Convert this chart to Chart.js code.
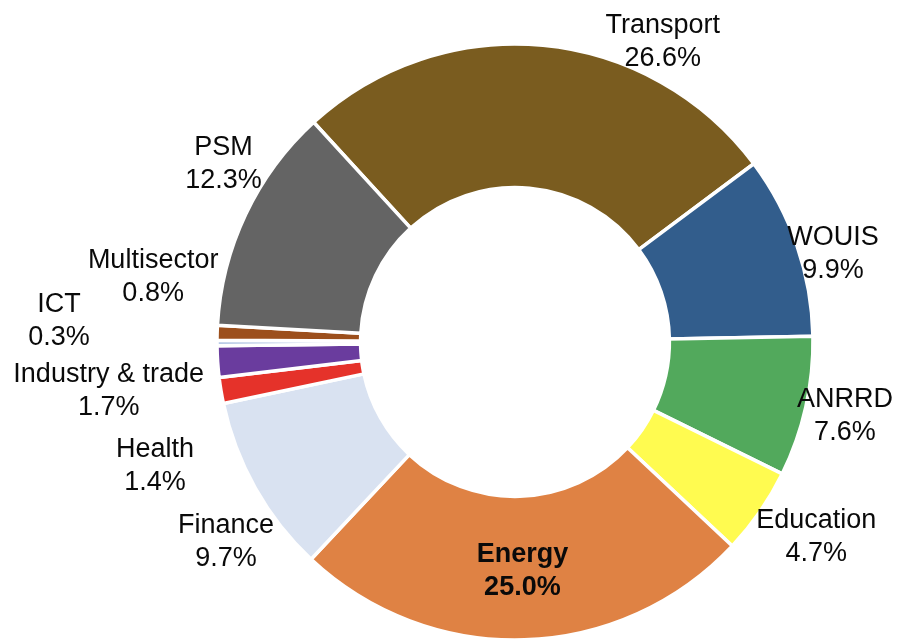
<!DOCTYPE html>
<html>
<head>
<meta charset="utf-8">
<script src="https://cdn.jsdelivr.net/npm/chart.js@4/dist/chart.umd.min.js"></script>
<style>
  html, body { margin: 0; padding: 0; background: #ffffff; }
  #wrap { width: 899px; height: 639px; position: relative; }
</style>
</head>
<body>
<div id="wrap"><canvas id="c" width="899" height="639"></canvas></div>
<script>
// ---- data ----
const categories = ["Transport", "WOUIS", "ANRRD", "Education", "Energy", "Finance", "Health", "Industry & trade", "ICT", "Multisector", "PSM"];
const shares = [26.6, 9.9, 7.6, 4.7, 25.0, 9.7, 1.4, 1.7, 0.3, 0.8, 12.3];
const sliceColors = ["#7a5c1f", "#325d8c", "#52a95c", "#fffb50", "#df8244", "#d9e2f1", "#e5322a", "#6a3c9e", "#b5c8e5", "#9c4f1c", "#646464"];

// label placement relative to slice mid-point on outer edge (style only)
const labelNudges = [[120, -14], [38, -1], [41, 1], [58, 17], [-2, -76], [-31, 46], [-68, 67], [-111, 20], [-160, -31], [-66, -65], [-24, -60]];
const boldLabels = ["Energy"];

const sliceLabels = {
  id: 'sliceLabels',
  afterDatasetsDraw(chart) {
    const ctx = chart.ctx;
    const meta = chart.getDatasetMeta(0);
    ctx.save();
    ctx.fillStyle = '#0a0a0a';
    ctx.textAlign = 'center';
    ctx.textBaseline = 'alphabetic';
    meta.data.forEach((arc, i) => {
      const p = arc.getProps(['x', 'y', 'startAngle', 'endAngle', 'outerRadius'], true);
      const mid = (p.startAngle + p.endAngle) / 2;
      const ax = p.x + Math.cos(mid) * 296;
      const ay = p.y + Math.sin(mid) * 296;
      const n = labelNudges[i];
      const x = ax + n[0];
      const y = ay + n[1];
      const bold = boldLabels.includes(categories[i]);
      ctx.font = (bold ? 'bold ' : '') + '27px "Liberation Sans", Arial, sans-serif';
      ctx.fillText(categories[i], x, y);
      ctx.fillText(shares[i].toFixed(1) + '%', x, y + 33);
    });
    ctx.restore();
  }
};

new Chart(document.getElementById('c'), {
  type: 'doughnut',
  data: {
    labels: categories,
    datasets: [{
      data: shares,
      backgroundColor: sliceColors,
      borderColor: '#ffffff',
      borderWidth: 3.5,
      hoverOffset: 0
    }]
  },
  options: {
    responsive: false,
    animation: false,
    rotation: -42.5,
    radius: 298,
    cutout: 153,
    layout: { padding: { left: 131, right: 0, top: 45, bottom: 0 } },
    plugins: {
      legend: { display: false },
      tooltip: { enabled: false }
    },
    events: []
  },
  plugins: [sliceLabels]
});
</script>
</body>
</html>
